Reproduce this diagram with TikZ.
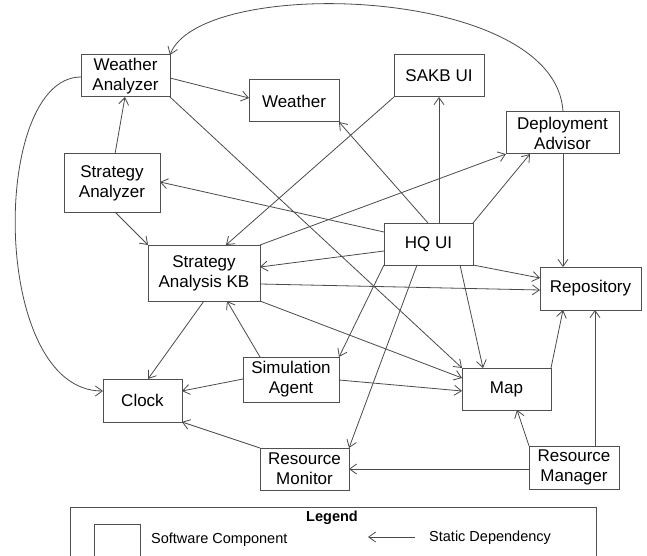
\documentclass[tikz,border=0pt]{standalone}
\usepackage{fontspec}
\setmainfont{Liberation Sans}
\usetikzlibrary{arrows.meta,calc}
\definecolor{boxgray}{HTML}{505050}
\definecolor{linegray}{HTML}{4A4A4A}
\begin{document}
\begin{tikzpicture}[x=1pt,y=-1pt,
  comp/.style={draw=boxgray, line width=1pt, inner sep=0pt, outer sep=0pt, align=center,
    font=\fontsize{17}{20}\selectfont, text=black},
  dep/.style={draw=linegray, line width=0.8pt, -{Straight Barb[length=7pt,width=10pt]}},
  legtext/.style={inner sep=0pt, anchor=west, font=\fontsize{14.5}{17}\selectfont, text=black},
]
\clip (0,0) rectangle (647,556);
\fill[white] (0,0) rectangle (647,556);

% components
\node[comp, minimum width=89pt,  minimum height=42pt] (wa)      at (125.5,76)  {Weather\\Analyzer};
\node[comp, minimum width=90pt,  minimum height=42pt] (weather) at (294,101)   {Weather};
\node[comp, minimum width=90pt,  minimum height=42pt] (sakbui)  at (439,76)    {SAKB UI};
\node[comp, minimum width=113pt, minimum height=42pt] (da)      at (562.5,133) {Deployment\\Advisor};
\node[comp, minimum width=96pt,  minimum height=58pt] (sa)      at (112,183)   {Strategy\\Analyzer};
\node[comp, minimum width=89pt,  minimum height=42pt] (hq)      at (428.5,244) {HQ UI};
\node[comp, minimum width=112pt, minimum height=56pt] (kb)      at (204,273)   {Strategy\\Analysis KB};
\node[comp, minimum width=101pt, minimum height=43pt] (repo)    at (590.5,288.5) {Repository};
\node[comp, minimum width=89pt,  minimum height=42pt] (map)     at (506.5,389) {Map};
\node[comp, minimum width=96pt,  minimum height=45pt] (sim)     at (291,379.5) {Simulation\\Agent};
\node[comp, minimum width=79pt,  minimum height=43pt] (clock)   at (142.5,400.5) {Clock};
\node[comp, minimum width=89pt,  minimum height=42pt] (rmon)    at (304.5,469) {Resource\\Monitor};
\node[comp, minimum width=90pt,  minimum height=43pt] (rmgr)    at (574,467.5) {Resource\\Manager};

% dependencies
\draw[dep] ($(da.north west)+(57,0)$) .. controls (557,-15) and (200,-25) .. (wa.north east);
\draw[dep] ($(wa.north west)+(0,22)$) .. controls (-10,77) and (-10,391) .. ($(clock.north west)+(0,12)$);
\draw[dep] ($(wa.north east)+(0,23)$) -- ($(weather.north west)+(0,18)$);
\draw[dep] (wa.south east) -- (map.north west);
\draw[dep] ($(sa.north west)+(51,0)$) -- ($(wa.south west)+(44,0)$);
\draw[dep] ($(sa.south west)+(51,0)$) -- (kb.north west);
\draw[dep] ($(hq.north west)+(0,9)$) -- ($(sa.north east)+(0,28)$);
\draw[dep] (sakbui.south west) -- ($(kb.north west)+(78,0)$);
\draw[dep] ($(hq.north west)+(55,0)$) -- (sakbui.south);
\draw[dep] ($(hq.north west)+(44,0)$) -- (weather.south east);
\draw[dep] (kb.north east) -- (da.south west);
\draw[dep] (hq.north east) -- ($(da.south west)+(24,0)$);
\draw[dep] ($(da.south west)+(57,0)$) -- ($(repo.north west)+(23,0)$);
\draw[dep] ($(hq.north west)+(0,28)$) -- ($(kb.north east)+(0,22)$);
\draw[dep] ($(kb.north east)+(0,39)$) -- ($(repo.north west)+(0,23)$);
\draw[dep] (hq.south east) -- ($(repo.north west)+(0,11)$);
\draw[dep] (kb.south east) -- ($(map.north west)+(0,10)$);
\draw[dep] ($(hq.south west)+(76,0)$) -- ($(map.north west)+(21,0)$);
\draw[dep] (hq.south west) -- (sim.north east);
\draw[dep] ($(hq.south west)+(33,0)$) -- (rmon.north east);
\draw[dep] ($(kb.south west)+(56,0)$) -- ($(clock.north west)+(45,0)$);
\draw[dep] ($(sim.north west)+(17,0)$) -- ($(kb.south west)+(79,0)$);
\draw[dep] ($(sim.north west)+(0,22)$) -- ($(clock.north east)+(0,12)$);
\draw[dep] ($(sim.north east)+(0,23)$) -- ($(map.north west)+(0,23)$);
\draw[dep] (rmon.north west) -- (clock.south east);
\draw[dep] ($(rmgr.north west)+(0,23)$) -- ($(rmon.north east)+(0,21)$);
\draw[dep] (rmgr.north west) -- ($(map.south west)+(55,0)$);
\draw[dep] ($(rmgr.north west)+(66,0)$) -- ($(repo.south west)+(55,0)$);
\draw[dep] (map.north east) -- ($(repo.south west)+(23,0)$);

% legend
\node[draw=boxgray, line width=1pt, inner sep=0pt, outer sep=0pt, anchor=north west,
      minimum width=526pt, minimum height=80pt] (legend) at (70,507) {};
\node[inner sep=0pt, font=\bfseries\fontsize{14.5}{17}\selectfont] (legtitle) at (332,518) {Legend};
\node[comp, anchor=north west, minimum width=46pt, minimum height=40pt] (legbox) at (94,524) {};
\node[legtext] (legcomp) at (151,540) {Software Component};
\node[legtext] (legdep) at (429,537.5) {Static Dependency};
\coordinate (la1) at (415,537);
\coordinate (la2) at (368,537);
\draw[dep] (la1) -- (la2);
\end{tikzpicture}
\end{document}
